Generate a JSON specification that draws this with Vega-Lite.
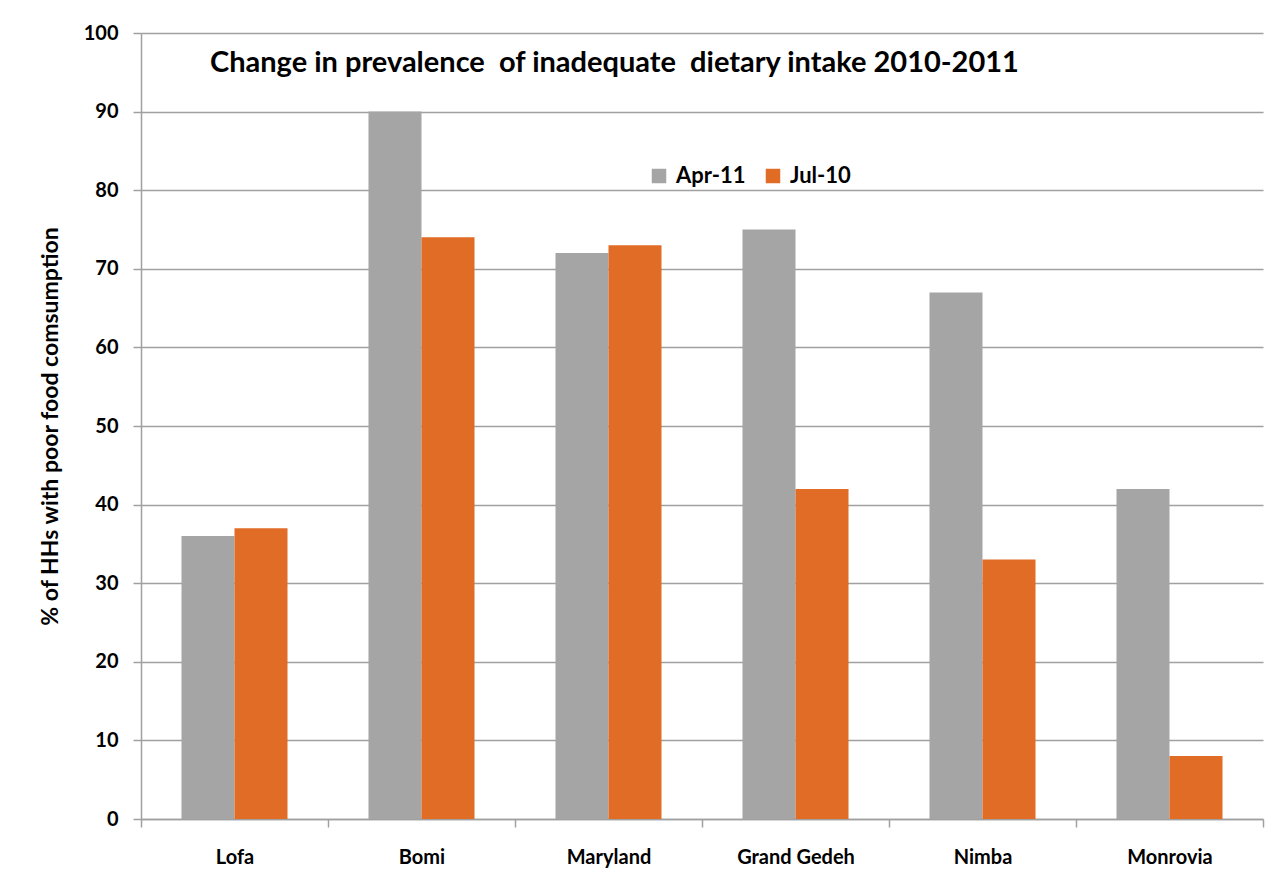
{
  "$schema": "https://vega.github.io/schema/vega-lite/v6.json",
  "autosize": {"type": "none"},
  "width": 1122,
  "height": 786,
  "padding": {"left": 141, "top": 33, "right": 12, "bottom": 69},
  "background": "white",
  "title": {
    "text": "Change in prevalence \u00a0of inadequate \u00a0dietary intake 2010-2011",
    "anchor": "start",
    "frame": "group",
    "font": "Lato",
    "fontSize": 29,
    "fontWeight": "bold",
    "color": "#000000",
    "baseline": "alphabetic",
    "offset": 0,
    "dx": 69,
    "dy": 78
  },
  "data": {
    "values": [
      {"region": "Lofa", "period": "Apr-11", "value": 36},
      {"region": "Lofa", "period": "Jul-10", "value": 37},
      {"region": "Bomi", "period": "Apr-11", "value": 90},
      {"region": "Bomi", "period": "Jul-10", "value": 74},
      {"region": "Maryland", "period": "Apr-11", "value": 72},
      {"region": "Maryland", "period": "Jul-10", "value": 73},
      {"region": "Grand Gedeh", "period": "Apr-11", "value": 75},
      {"region": "Grand Gedeh", "period": "Jul-10", "value": 42},
      {"region": "Nimba", "period": "Apr-11", "value": 67},
      {"region": "Nimba", "period": "Jul-10", "value": 33},
      {"region": "Monrovia", "period": "Apr-11", "value": 42},
      {"region": "Monrovia", "period": "Jul-10", "value": 8}
    ]
  },
  "mark": {"type": "bar"},
  "encoding": {
    "x": {
      "field": "region",
      "type": "nominal",
      "sort": ["Lofa", "Bomi", "Maryland", "Grand Gedeh", "Nimba", "Monrovia"],
      "scale": {"paddingInner": 0, "paddingOuter": 0},
      "axis": {
        "title": null,
        "labelAngle": 0,
        "labelFont": "Lato",
        "labelFontSize": 20,
        "labelFontWeight": "bold",
        "labelColor": "#000000",
        "labelPadding": 20,
        "tickBand": "extent",
        "tickSize": 8,
        "tickColor": "#A0A0A0",
        "domainColor": "#A0A0A0",
        "domainWidth": 1.5,
        "tickWidth": 1.5
      }
    },
    "xOffset": {
      "field": "period",
      "type": "nominal",
      "sort": ["Apr-11", "Jul-10"],
      "scale": {"paddingInner": 0, "paddingOuter": 0.764}
    },
    "y": {
      "field": "value",
      "type": "quantitative",
      "scale": {"domain": [0, 100], "nice": false},
      "axis": {
        "title": "% of HHs with poor food comsumption",
        "titleFont": "Lato",
        "titleFontSize": 23,
        "titleFontWeight": "bold",
        "titleColor": "#000000",
        "titlePadding": 21,
        "values": [0, 10, 20, 30, 40, 50, 60, 70, 80, 90, 100],
        "labelFont": "Lato",
        "labelFontSize": 20,
        "labelFontWeight": "bold",
        "labelColor": "#000000",
        "labelPadding": 15,
        "tickSize": 8,
        "tickColor": "#A0A0A0",
        "tickWidth": 1.5,
        "domainColor": "#A0A0A0",
        "domainWidth": 1.5,
        "grid": true,
        "gridColor": "#A0A0A0",
        "gridWidth": 1.5
      }
    },
    "color": {
      "field": "period",
      "type": "nominal",
      "sort": ["Apr-11", "Jul-10"],
      "scale": {"domain": ["Apr-11", "Jul-10"], "range": ["#A5A5A5", "#E06C26"]},
      "legend": {
        "title": null,
        "orient": "none",
        "legendX": 507,
        "legendY": 132,
        "direction": "horizontal",
        "symbolType": "square",
        "symbolSize": 210,
        "symbolStrokeWidth": 0,
        "labelFont": "Lato",
        "labelFontSize": 22,
        "labelFontWeight": "bold",
        "labelColor": "#000000",
        "columnPadding": 16,
        "labelOffset": 6
      }
    }
  },
  "config": {
    "view": {"stroke": null}
  }
}
